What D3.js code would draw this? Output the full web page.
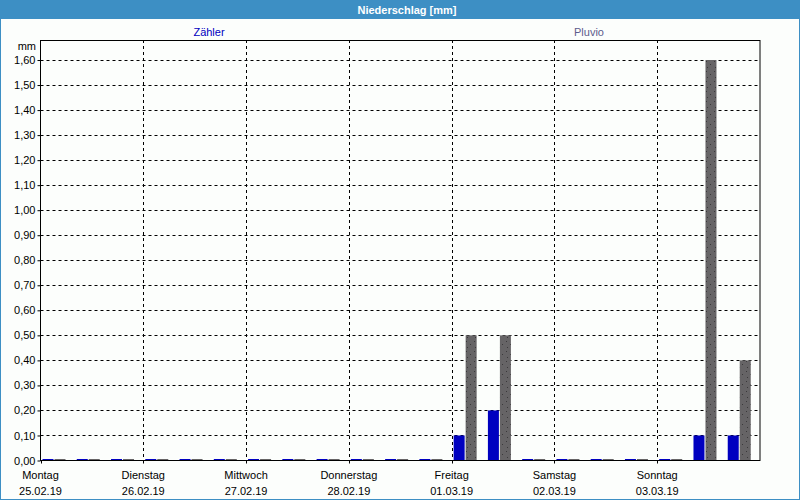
<!DOCTYPE html>
<html><head><meta charset="utf-8">
<script src="https://cdn.jsdelivr.net/npm/d3@7"></script>
<style>
html,body{margin:0;padding:0;background:#fcfefc;}
svg{display:block;font-family:"Liberation Sans",Arial,sans-serif;}
</style></head>
<body>
<svg id="c" width="800" height="500"></svg>
<script>
const days = ["Montag","Dienstag","Mittwoch","Donnerstag","Freitag","Samstag","Sonntag"];
const dates = ["25.02.19","26.02.19","27.02.19","28.02.19","01.03.19","02.03.19","03.03.19"];
const seriesNames = ["Zähler","Pluvio"];
// three 8-hour slots per day
const zaehler = [0,0,0, 0,0,0, 0,0,0, 0,0,0, 0.1,0.2,0, 0,0,0, 0,0.1,0.1];
const pluvio  = [0,0,0, 0,0,0, 0,0,0, 0,0,0, 0.5,0.5,0, 0,0,0, 0,1.6,0.4];
const yTicks = [0,0.1,0.2,0.3,0.4,0.5,0.6,0.7,0.8,0.9,1.0,1.1,1.2,1.3,1.4,1.5,1.6];
const yMax = 1.68;

const svg = d3.select("#c");
const pL = 40.5, pR = 760, pT = 40, pB = 460.5;
const blue = "#0000c0", gray = "#666466", frame = "#3d8fc4";

// window frame
svg.append("rect").attr("x",0).attr("y",0).attr("width",800).attr("height",500).attr("fill","#fcfefc");
svg.append("rect").attr("x",0).attr("y",0).attr("width",800).attr("height",19).attr("fill",frame);
svg.append("rect").attr("x",0.5).attr("y",0.5).attr("width",799).attr("height",499)
  .attr("fill","none").attr("stroke",frame).attr("stroke-width",1);
svg.append("text").attr("x",407).attr("y",14).attr("text-anchor","middle")
  .attr("fill","#fff").attr("font-weight","bold").attr("font-size",11).text("Niederschlag [mm]");

// pattern
const defs = svg.append("defs");
const pat = defs.append("pattern").attr("id","dots").attr("patternUnits","userSpaceOnUse")
  .attr("width",8).attr("height",10);
pat.append("rect").attr("width",8).attr("height",10).attr("fill",gray);
[[2,1],[6,4],[3,7]].forEach(([px,py])=>pat.append("rect").attr("x",px).attr("y",py).attr("width",1).attr("height",1).attr("fill","#3a383a"));

const x = d3.scaleLinear().domain([0, days.length*3]).range([pL, pR]);
const y = d3.scaleLinear().domain([0, yMax]).range([pB, pT]);

// grid
const g = svg.append("g");
g.selectAll("line.h").data(yTicks.filter(t=>t>0)).join("line")
  .attr("x1",pL).attr("x2",pR).attr("y1",d=>Math.round(y(d))+0.5).attr("y2",d=>Math.round(y(d))+0.5)
  .attr("stroke","#000").attr("stroke-dasharray","3,3");
g.selectAll("line.v").data(d3.range(1,days.length)).join("line")
  .attr("x1",d=>Math.round(x(d*3))+0.5).attr("x2",d=>Math.round(x(d*3))+0.5).attr("y1",pT).attr("y2",pB)
  .attr("stroke","#000").attr("stroke-dasharray","3,3");

// bars
const bw = 11;
svg.append("g").selectAll("rect").data(zaehler).join("rect")
  .attr("x",(d,i)=>x(i)+2).attr("width",bw)
  .attr("y",d=>d>0?y(d):pB-1.5).attr("height",d=>d>0?pB-y(d):1.5)
  .attr("fill",blue);
svg.append("g").selectAll("rect").data(pluvio).join("rect")
  .attr("x",(d,i)=>x(i)+2+bw+1).attr("width",bw)
  .attr("y",d=>d>0?y(d):pB-1.5).attr("height",d=>d>0?pB-y(d):1.5)
  .attr("fill",d=>d>0?"url(#dots)":gray);

// frame of plot
svg.append("rect").attr("x",pL).attr("y",pT+0.5).attr("width",pR-pL).attr("height",pB-pT-0.5)
  .attr("fill","none").attr("stroke","#000");

// y axis
const yAxis = d3.axisLeft(y).tickValues(yTicks).tickSize(3).tickPadding(2)
  .tickFormat(d=>d3.format(".2f")(d).replace(".",","));
const ya = svg.append("g").attr("transform",`translate(${pL},0)`).call(yAxis);
ya.select(".domain").remove();
ya.selectAll("text").attr("font-size",11).attr("font-family","Liberation Sans, Arial, sans-serif").attr("fill","#000");
svg.append("text").attr("x",36).attr("y",50).attr("text-anchor","end").attr("font-size",11).text("mm");

// x axis
const xa = svg.append("g").attr("transform",`translate(0,${pB})`);
xa.selectAll("line").data(d3.range(0,days.length)).join("line")
  .attr("x1",d=>Math.round(x(d*3))+0.5).attr("x2",d=>Math.round(x(d*3))+0.5).attr("y1",0).attr("y2",3).attr("stroke","#000");
xa.selectAll("text.d").data(days).join("text").attr("class","d")
  .attr("x",(d,i)=>x(i*3)).attr("y",18).attr("text-anchor","middle").attr("font-size",11).text(d=>d);
xa.selectAll("text.t").data(dates).join("text").attr("class","t")
  .attr("x",(d,i)=>x(i*3)).attr("y",34).attr("text-anchor","middle").attr("font-size",11).text(d=>d);

// series labels
svg.append("text").attr("x",209).attr("y",36).attr("text-anchor","middle").attr("font-size",11).attr("fill",blue).text(seriesNames[0]);
svg.append("text").attr("x",589).attr("y",36).attr("text-anchor","middle").attr("font-size",11).attr("fill","#5c5c8c").text(seriesNames[1]);
</script>
</body></html>
